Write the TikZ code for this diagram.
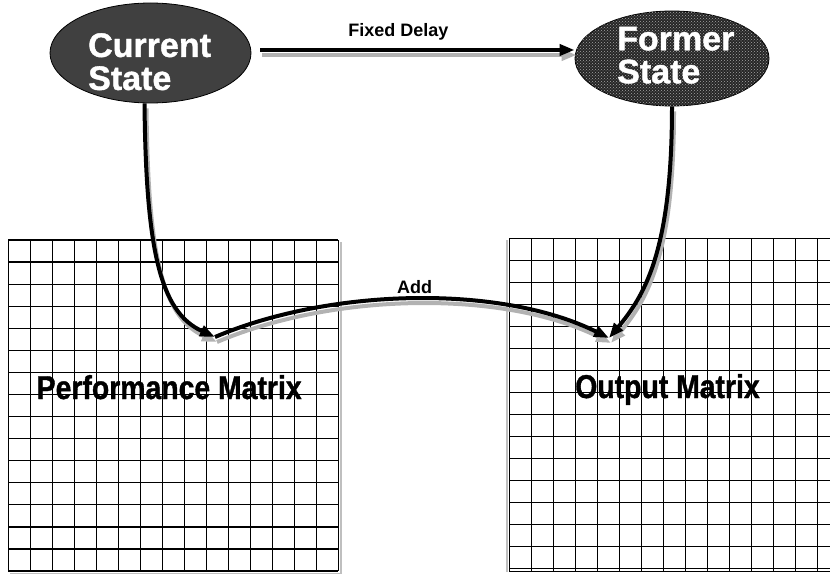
\documentclass[tikz,border=0pt]{standalone}
\usepackage{fontspec}
\usepackage{graphicx}
\setmainfont{Liberation Sans}
\newfontfamily\heavyfont[BoldFeatures={FakeBold=1.2}]{Liberation Sans}
\usetikzlibrary{shapes.geometric,arrows.meta,patterns}

\begin{document}
\begin{tikzpicture}[x=1pt,y=-1pt,
  gridline/.style={line width=1.2pt, black},
  gridshadow/.style={line width=1.4pt, black!25},
  stateell/.style={ellipse, draw=black, line width=0.8pt, inner sep=0pt},
  statetxt/.style={text=white, font=\fontsize{34}{33}\selectfont\heavyfont\bfseries,
    align=left, inner sep=0pt, anchor=north west},
  conn/.style={line width=4pt, -{Triangle[length=15pt,width=11pt]},
    preaction={draw=black!30, line width=4pt,
      transform canvas={shift={(2pt,-5pt)}}}},
  lbl/.style={font=\fontsize{18}{18}\selectfont\bfseries, anchor=base, inner sep=0pt},
  mtxlbl/.style={font=\fontsize{33}{33}\selectfont\heavyfont\bfseries, anchor=base, inner sep=0pt},
  mtx/.style={minimum width=330pt, minimum height=330pt, anchor=north west, inner sep=0pt}]

\useasboundingbox (0,0) rectangle (830,575);
\clip (0,0) rectangle (830,575);

% performance matrix grid (15 x 15 cells)
\node[mtx] (pm) at (8.3,240) {};
\draw[gridshadow] (341,242) -- (341,573.5) -- (10,573.5);
\foreach \i in {0,...,15} {
  \draw[gridline] ({8.3+22*\i},240) -- ({8.3+22*\i},571);
  \draw[gridline] (8.3,{240+22.07*\i}) -- (338.3,{240+22.07*\i});
}

% output matrix grid, running off the right edge
\node[mtx] (om) at (509.3,238.3) {};
\draw[gridshadow] (507,240) -- (507,572);
\foreach \i in {0,...,15} {
  \draw[gridline] ({509.3+22*\i},238.3) -- ({509.3+22*\i},571.7);
  \draw[gridline] (509.3,{238.3+22*\i}) -- (850,{238.3+22*\i});
}
\draw[gridline] (509.3,571.7) -- (850,571.7);

% state ellipses
\node[stateell, fill=black!75, minimum width=201pt, minimum height=100pt] (cs) at (150.5,53) {};
\node[stateell, fill=black!85, minimum width=194pt, minimum height=95pt,
  postaction={pattern=crosshatch dots, pattern color=black!35}] (fs) at (672,58.5) {};
\node[statetxt] (cstxt) at (88,33) {Current\\State};
\node[statetxt] (fstxt) at (617,26.7) {Former\\State};

% arrow end points inside the matrices
\coordinate (pmin) at (215,337);
\coordinate (omin) at (609,338);

% connectors
\draw[conn] ([xshift=9pt,yshift=3pt]cs.east) -- ([yshift=8.5pt]fs.west);
\draw[conn] ([xshift=-6pt]cs.south) .. controls (146,250) and (160,312) .. (pmin);
\draw[conn] (pmin) .. controls (330,288) and (500,284) .. (omin);
\draw[conn] (fs.south) .. controls (672,250) and (645,295) .. (omin);

% labels
\node[lbl] (fdl) at (398.3,36.7) {Fixed Delay};
\node[lbl] (addl) at (414.7,293.3) {Add};
\node[mtxlbl] (pml) at (169.2,399) {\scalebox{0.86}[1]{Performance Matrix}};
\node[mtxlbl] (oml) at (667.5,398) {\scalebox{0.86}[1]{Output Matrix}};
\end{tikzpicture}
\end{document}
